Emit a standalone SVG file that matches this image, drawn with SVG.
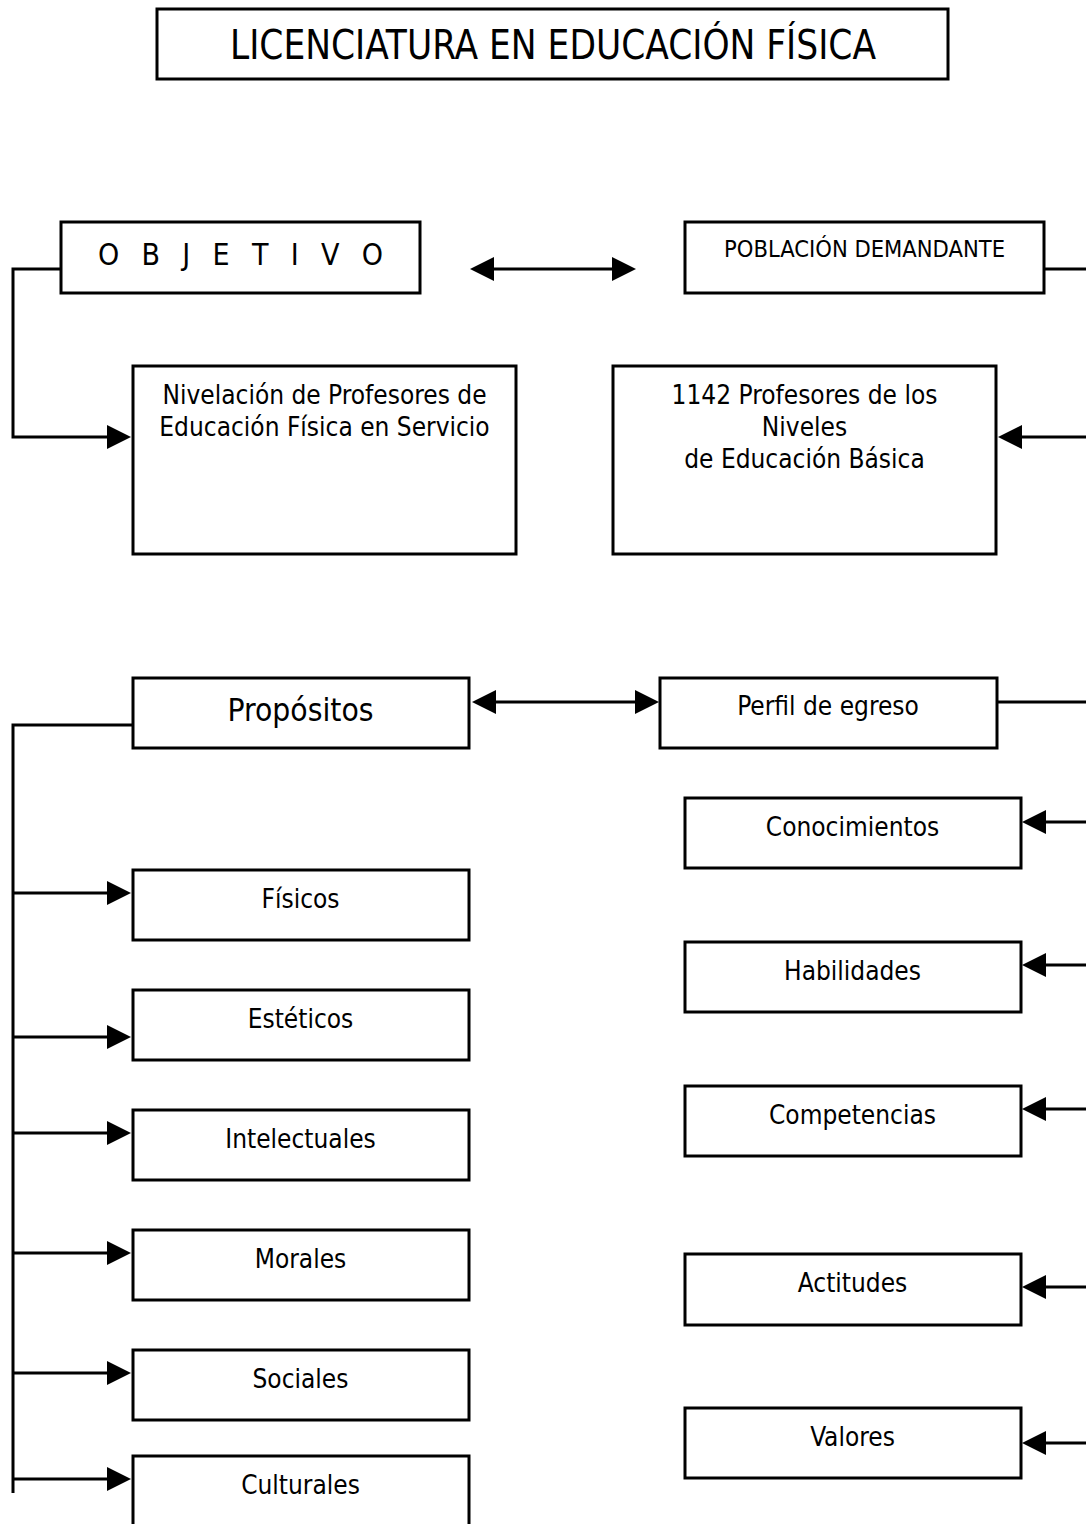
<svg xmlns="http://www.w3.org/2000/svg" width="1086" height="1524" viewBox="0 0 1086 1524">
<style>
.box{fill:#fff;stroke:#000;stroke-width:3}
.t{font-family:'DejaVu Sans Condensed','DejaVu Sans',sans-serif;font-stretch:condensed;font-size:26px;fill:#000;text-anchor:middle}
.c{fill:none;stroke:#000;stroke-width:3}
</style>
<defs>
<marker id="ah" markerUnits="userSpaceOnUse" markerWidth="24" markerHeight="26" refX="14" refY="13" orient="auto-start-reverse" viewBox="0 0 24 26">
<path d="M0,1 L24,13 L0,25 z" fill="#000"/>
</marker>
</defs>
<rect width="1086" height="1524" fill="#fff"/>
<g id="connectors">
<path class="c" d="M60,269 H13 V437 H121" marker-end="url(#ah)"/>
<path class="c" d="M480,269 H626" marker-start="url(#ah)" marker-end="url(#ah)"/>
<path class="c" d="M1045,269 H1090 V437 H1008" marker-end="url(#ah)"/>
<path class="c" d="M482,702 H649" marker-start="url(#ah)" marker-end="url(#ah)"/>
<path class="c" d="M132,725 H13 V1493"/>
<path class="c" d="M13,893 H121" marker-end="url(#ah)"/>
<path class="c" d="M13,1037 H121" marker-end="url(#ah)"/>
<path class="c" d="M13,1133 H121" marker-end="url(#ah)"/>
<path class="c" d="M13,1253 H121" marker-end="url(#ah)"/>
<path class="c" d="M13,1373 H121" marker-end="url(#ah)"/>
<path class="c" d="M13,1479 H121" marker-end="url(#ah)"/>
<path class="c" d="M998,702 H1090 V1443"/>
<path class="c" d="M1090,822 H1032" marker-end="url(#ah)"/>
<path class="c" d="M1090,965 H1032" marker-end="url(#ah)"/>
<path class="c" d="M1090,1109 H1032" marker-end="url(#ah)"/>
<path class="c" d="M1090,1287 H1032" marker-end="url(#ah)"/>
<path class="c" d="M1090,1443 H1032" marker-end="url(#ah)"/>
</g>
<g id="title"><rect class="box" x="157" y="9" width="791" height="70"/><text class="t" x="553" y="59" style="font-size:40px" textLength="646" lengthAdjust="spacingAndGlyphs">LICENCIATURA EN EDUCACIÓN FÍSICA</text></g>
<g id="objetivo"><rect class="box" x="61" y="222" width="359" height="71"/><text class="t" x="240.5" y="265" style="font-size:30px" textLength="285">O B J E T I V O</text></g>
<g id="poblacion"><rect class="box" x="685" y="222" width="359" height="71"/><text class="t" x="864.5" y="257" style="font-size:23.5px">POBLACIÓN DEMANDANTE</text></g>
<g id="nivelacion"><rect class="box" x="133" y="366" width="383" height="188"/><text class="t" x="324.5" y="404">Nivelación de Profesores de</text><text class="t" x="324.5" y="436">Educación Física en Servicio</text></g>
<g id="profesores"><rect class="box" x="613" y="366" width="383" height="188"/><text class="t" x="804.5" y="404">1142 Profesores de los</text><text class="t" x="804.5" y="436">Niveles</text><text class="t" x="804.5" y="468">de Educación Básica</text></g>
<g id="propositos"><rect class="box" x="133" y="678" width="336" height="70"/><text class="t" x="300.5" y="721" style="font-size:31.5px">Propósitos</text></g>
<g id="perfil"><rect class="box" x="660" y="678" width="337" height="70"/><text class="t" x="828" y="715">Perfil de egreso</text></g>
<g id="conocimientos"><rect class="box" x="685" y="798" width="336" height="70"/><text class="t" x="852.5" y="836">Conocimientos</text></g>
<g id="habilidades"><rect class="box" x="685" y="942" width="336" height="70"/><text class="t" x="852.5" y="980">Habilidades</text></g>
<g id="competencias"><rect class="box" x="685" y="1086" width="336" height="70"/><text class="t" x="852.5" y="1124">Competencias</text></g>
<g id="actitudes"><rect class="box" x="685" y="1254" width="336" height="71"/><text class="t" x="852.5" y="1292">Actitudes</text></g>
<g id="valores"><rect class="box" x="685" y="1408" width="336" height="70"/><text class="t" x="852.5" y="1446">Valores</text></g>
<g id="fisicos"><rect class="box" x="133" y="870" width="336" height="70"/><text class="t" x="300.5" y="908">Físicos</text></g>
<g id="esteticos"><rect class="box" x="133" y="990" width="336" height="70"/><text class="t" x="300.5" y="1028">Estéticos</text></g>
<g id="intelectuales"><rect class="box" x="133" y="1110" width="336" height="70"/><text class="t" x="300.5" y="1148">Intelectuales</text></g>
<g id="morales"><rect class="box" x="133" y="1230" width="336" height="70"/><text class="t" x="300.5" y="1268">Morales</text></g>
<g id="sociales"><rect class="box" x="133" y="1350" width="336" height="70"/><text class="t" x="300.5" y="1388">Sociales</text></g>
<g id="culturales"><rect class="box" x="133" y="1456" width="336" height="80"/><text class="t" x="300.5" y="1494">Culturales</text></g>
</svg>
